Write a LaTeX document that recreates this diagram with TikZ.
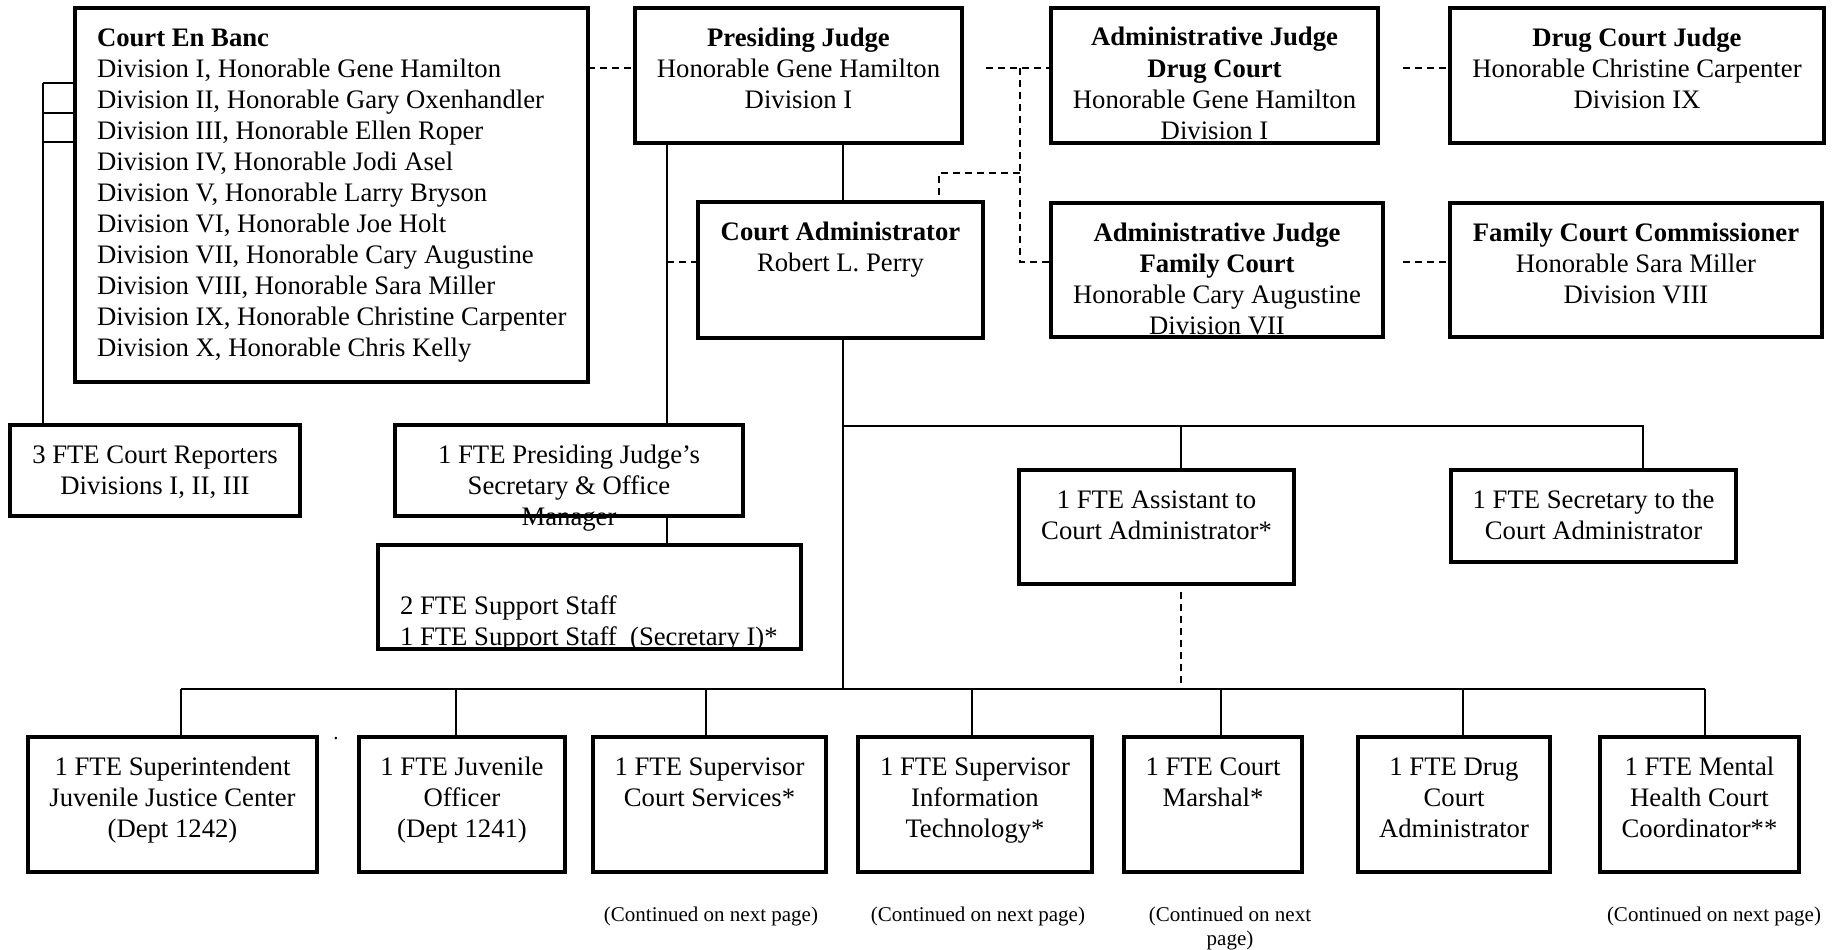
\documentclass[tikz,border=0pt]{standalone}
\usepackage{fontspec}
\setmainfont{Liberation Serif}
\usetikzlibrary{backgrounds}
\newcommand\fl{\rule{0pt}{20pt}}
\newcommand\fs{\rule{0pt}{16pt}}
\tikzset{
  orgbox/.style={draw, line width=3.4pt, inner sep=0pt, outer sep=0pt, rectangle},
  ctext/.style={inner sep=0pt, outer sep=0pt, align=center, font=\fontsize{26.7pt}{31pt}\selectfont},
  ltext/.style={inner sep=0pt, outer sep=0pt, align=left, font=\fontsize{26.7pt}{31pt}\selectfont},
  stext/.style={inner sep=0pt, outer sep=0pt, align=center, font=\fontsize{21pt}{24pt}\selectfont},
  conn/.style={line width=1.6pt},
  dsh/.style={line width=1.6pt, dash pattern=on 7pt off 5pt},
}
% name, x, y, width, height, centred text
\newcommand\obox[6]{%
  \node[orgbox, minimum width=#4pt, minimum height=#5pt, anchor=north west] (#1) at (#2,#3) {};
  \begin{pgfonlayer}{background}
    \node[ctext, anchor=north] (#1t) at ([yshift=-18pt]#1.north) {\fl #6};
  \end{pgfonlayer}
}
\begin{document}
\begin{tikzpicture}[x=1pt, y=-1pt]
\useasboundingbox (0,0) rectangle (1842,950);
\begin{pgfonlayer}{background}
  \fill[white] (0,0) rectangle (1842,950);
\end{pgfonlayer}

% ---- top row
\node[orgbox, minimum width=513pt, minimum height=374pt, anchor=north west] (ceb) at (75,8) {};
\begin{pgfonlayer}{background}
\node[ltext, anchor=north west] (cebt) at (97,26) {\fl\textbf{Court En Banc}\\
Division I, Honorable Gene Hamilton\\
Division II, Honorable Gary Oxenhandler\\
Division III, Honorable Ellen Roper\\
Division IV, Honorable Jodi Asel\\
Division V, Honorable Larry Bryson\\
Division VI, Honorable Joe Holt\\
Division VII, Honorable Cary Augustine\\
Division VIII, Honorable Sara Miller\\
Division IX, Honorable Christine Carpenter\\
Division X, Honorable Chris Kelly};
\end{pgfonlayer}

\obox{pj}{635}{8}{327}{135}{\textbf{Presiding Judge}\\Honorable Gene Hamilton\\Division I}
\obox{ajd}{1051}{8}{327}{135}{\textbf{Administrative Judge}\\\textbf{Drug Court}\\Honorable Gene Hamilton\\Division I}
\obox{dcj}{1450}{8}{374}{135}{\textbf{Drug Court Judge}\\Honorable Christine Carpenter\\Division IX}
\obox{ca}{698}{202}{285}{136}{\textbf{Court Administrator}\\Robert L. Perry}
\obox{ajf}{1051}{203}{332}{134}{\textbf{Administrative Judge}\\\textbf{Family Court}\\Honorable Cary Augustine\\Division VII}
\obox{fcc}{1450}{203}{372}{134}{\textbf{Family Court Commissioner}\\Honorable Sara Miller\\Division VIII}

% ---- middle
\obox{cr}{10}{425}{290}{91}{3 FTE Court Reporters\\Divisions I, II, III}
\obox{pjs}{395}{425}{348}{91}{1 FTE Presiding Judge’s\\Secretary \& Office\\Manager}
\node[orgbox, minimum width=423pt, minimum height=104pt, anchor=north west] (ss) at (378,545) {};
\begin{pgfonlayer}{background}
\node[ltext, anchor=north west] (sst) at (400,594) {\fl 2 FTE Support Staff\\1 FTE Support Staff\ \ (Secretary I)*};
\end{pgfonlayer}
\obox{aca}{1019}{470}{275}{114}{1 FTE Assistant to\\Court Administrator*}
\obox{sca}{1451}{470}{285}{92}{1 FTE Secretary to the\\Court Administrator}

% ---- bottom row
\obox{b1}{28}{737}{289}{135}{1 FTE Superintendent\\Juvenile Justice Center\\(Dept 1242)}
\obox{b2}{359}{737}{206}{135}{1 FTE Juvenile\\Officer\\(Dept 1241)}
\obox{b3}{593}{737}{233}{135}{1 FTE Supervisor\\Court Services*}
\obox{b4}{858}{737}{234}{135}{1 FTE Supervisor\\Information\\Technology*}
\obox{b5}{1124}{737}{178}{135}{1 FTE Court\\Marshal*}
\obox{b6}{1358}{737}{192}{135}{1 FTE Drug\\Court\\Administrator}
\obox{b7}{1600}{737}{199}{135}{1 FTE Mental\\Health Court\\Coordinator**}

\node[stext, anchor=north] (c3) at (711,905) {\fs(Continued on next page)};
\node[stext, anchor=north] (c4) at (978,905) {\fs(Continued on next page)};
\node[stext, anchor=north] (c5) at (1230,905) {\fs(Continued on next\\page)};
\node[stext, anchor=north] (c7) at (1714,905) {\fs(Continued on next page)};
\node[stext, anchor=base] (dot) at (336,739) {.};

% ---- connectors
\coordinate (lb1) at (43,83);
\coordinate (lb2) at (43,113);
\coordinate (lb3) at (43,142);
\draw[conn] (lb1) -- (lb1 -| ceb.west);
\draw[conn] (lb2) -- (lb2 -| ceb.west);
\draw[conn] (lb3) -- (lb3 -| ceb.west);
\draw[conn] (lb1) -- (lb1 |- cr.north);

\coordinate (r1) at (0,68);
\coordinate (r2) at (0,262);
\coordinate (v1) at (667,0);
\coordinate (v2) at (843,0);
\draw[dsh] (r1 -| ceb.east) -- (r1 -| pj.west);
\coordinate (j1) at (986,68);
\coordinate (j2) at (1020,68);
\coordinate (j3) at (1020,173);
\coordinate (j4) at (939,173);
\draw[dsh] (j1) -- (j1 -| ajd.west);
\draw[dsh] (j2) -- (j2 |- r2) -- (r2 -| ajf.west);
\draw[dsh] (j3) -- (j4) -- (j4 |- ca.north);
\coordinate (k1) at (1403,68);
\coordinate (k2) at (1403,262);
\draw[dsh] (k1) -- (k1 -| dcj.west);
\draw[dsh] (k2) -- (k2 -| fcc.west);
\draw[dsh] (v1 |- r2) -- (r2 -| ca.west);

\draw[conn] (v1 |- pj.south) -- (v1 |- pjs.north);
\draw[conn] (v1 |- pjs.south) -- (v1 |- ss.north);
\draw[conn] (v2 |- pj.south) -- (v2 |- ca.north);

\coordinate (hb) at (0,689);
\draw[conn] (v2 |- ca.south) -- (v2 |- hb);
\coordinate (h1) at (843,426);
\coordinate (h2) at (1643,426);
\coordinate (h3) at (1181,426);
\draw[conn] (h1) -- (h2) -- (h2 |- sca.north);
\draw[conn] (h3) -- (h3 |- aca.north);
\coordinate (ad) at (1181,592);
\draw[dsh] (ad) -- (ad |- hb);

\coordinate (d1) at (181,689);
\coordinate (d2) at (456,689);
\coordinate (d3) at (706,689);
\coordinate (d4) at (972,689);
\coordinate (d5) at (1221,689);
\coordinate (d6) at (1463,689);
\coordinate (d7) at (1705,689);
\draw[conn] (d1) -- (d7);
\draw[conn] (d1) -- (d1 |- b1.north);
\draw[conn] (d2) -- (d2 |- b2.north);
\draw[conn] (d3) -- (d3 |- b3.north);
\draw[conn] (d4) -- (d4 |- b4.north);
\draw[conn] (d5) -- (d5 |- b5.north);
\draw[conn] (d6) -- (d6 |- b6.north);
\draw[conn] (d7) -- (d7 |- b7.north);
\end{tikzpicture}
\end{document}
